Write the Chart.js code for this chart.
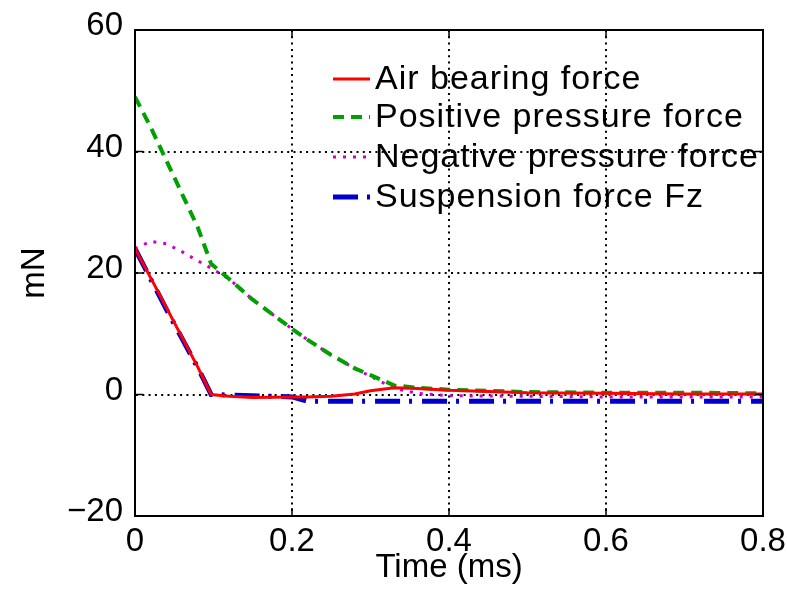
<!DOCTYPE html>
<html>
<head>
<meta charset="utf-8">
<title>Fuerzas</title>
<script src="https://cdn.jsdelivr.net/npm/chart.js@4.4.1/dist/chart.umd.min.js"></script>
<style>
    body { margin: 0; background: #fff; }
    canvas { display: block; }
</style>
</head>
<body>
<canvas id="graficoFuerzas" width="787" height="591"></canvas>
<script>
// Datos (tiempo en ms, fuerza en mN)
const tiempos = [0, 0.02, 0.04, 0.06, 0.08, 0.097, 0.12, 0.15, 0.2, 0.22, 0.25, 0.28, 0.3, 0.33, 0.36, 0.4, 0.5, 0.6, 0.7, 0.8];
const fuerzaAire = [24, 19.2, 14.3, 9.4, 4.5, 0, -0.3, -0.5, -0.4, -0.4, -0.3, 0.1, 0.6, 1.1, 1.0, 0.7, 0.3, 0.2, 0.1, 0.1];
const fuerzaPositiva = [49, 44, 38.5, 33, 27.5, 21.5, 19, 15.6, 10.8, 9, 6.5, 4.3, 3.2, 1.5, 1.1, 0.8, 0.4, 0.3, 0.3, 0.2];
const fuerzaNegativa = [24, 25.2, 24.8, 23.5, 22, 20.8, 19, 15.6, 10.8, 9, 6.5, 4.3, 3, 1, 0.2, -0.2, -0.3, -0.4, -0.4, -0.4];
const fuerzaSuspension = [24, 19, 14, 9.2, 4.4, 0, -0.1, -0.2, -0.4, -1.1, -1.1, -1.1, -1.1, -1.1, -1.1, -1.1, -1.1, -1.1, -1.1, -1.1];

const etiquetasSeries = ['Air bearing force', 'Positive pressure force', 'Negative pressure force', 'Suspension force Fz'];
const ticksX = [0, 0.2, 0.4, 0.6, 0.8];
const ticksY = [-20, 0, 20, 40, 60];

const fuente = "'Liberation Sans', Arial, Helvetica, sans-serif";

function puntos(valores) {
    return tiempos.map((t, i) => ({ x: t, y: valores[i] }));
}

function serie(indice, valores, color, ancho, guiones) {
    return {
        label: etiquetasSeries[indice],
        data: puntos(valores),
        borderColor: color,
        backgroundColor: color,
        borderWidth: ancho,
        borderDash: guiones,
        pointRadius: 0,
        tension: 0,
        fill: false
    };
}

// Marco completo, marcas hacia dentro y leyenda dentro del area
const marcoPlugin = {
    id: 'marco',
    afterDraw(chart) {
        const ctx = chart.ctx;
        const area = chart.chartArea;
        const sx = chart.scales.x;
        const sy = chart.scales.y;
        ctx.save();
        ctx.strokeStyle = '#000';
        ctx.lineWidth = 2;
        ctx.setLineDash([]);
        ctx.strokeRect(area.left, area.top, area.right - area.left, area.bottom - area.top);

        const largo = 8;
        ctx.lineWidth = 1.5;
        ticksX.forEach(v => {
            const px = sx.getPixelForValue(v);
            ctx.beginPath();
            ctx.moveTo(px, area.bottom); ctx.lineTo(px, area.bottom - largo);
            ctx.moveTo(px, area.top); ctx.lineTo(px, area.top + largo);
            ctx.stroke();
        });
        ticksY.forEach(v => {
            const py = sy.getPixelForValue(v);
            ctx.beginPath();
            ctx.moveTo(area.left, py); ctx.lineTo(area.left + largo, py);
            ctx.moveTo(area.right, py); ctx.lineTo(area.right - largo, py);
            ctx.stroke();
        });

        // leyenda
        const x0 = 333, x1 = 370, xTexto = 375;
        const filas = [79, 117, 157, 197];
        ctx.font = '34px ' + fuente;
        ctx.letterSpacing = '1px';
        ctx.textBaseline = 'middle';
        ctx.textAlign = 'left';
        chart.data.datasets.forEach((ds, i) => {
            ctx.strokeStyle = ds.borderColor;
            ctx.lineWidth = ds.borderWidth;
            ctx.setLineDash(ds.borderDash || []);
            ctx.beginPath();
            ctx.moveTo(x0, filas[i]);
            ctx.lineTo(x1, filas[i]);
            ctx.stroke();
            ctx.setLineDash([]);
            ctx.fillStyle = '#000';
            ctx.fillText(ds.label, xTexto, filas[i] + 1);
        });
        ctx.restore();
    }
};

const ctx = document.getElementById('graficoFuerzas').getContext('2d');

const chartInstance = new Chart(ctx, {
    type: 'line',
    data: {
        datasets: [
            serie(0, fuerzaAire, '#ff0000', 3, []),
            serie(1, fuerzaPositiva, '#00a000', 4, [11, 7]),
            serie(2, fuerzaNegativa, '#cc00cc', 3, [3, 7]),
            serie(3, fuerzaSuspension, '#0000cc', 5, [25, 9, 3, 10])
        ]
    },
    options: {
        responsive: false,
        animation: false,
        layout: {
            padding: { top: 30, right: 24, left: 0, bottom: 0 }
        },
        plugins: {
            legend: { display: false },
            tooltip: { enabled: false }
        },
        scales: {
            x: {
                type: 'linear',
                min: 0,
                max: 0.8,
                afterBuildTicks: scale => { scale.ticks = ticksX.map(v => ({ value: v })); },
                afterFit: scale => {
                    scale.height = 75;
                    scale.paddingLeft = 0;
                    scale.paddingRight = 0;
                },
                grid: {
                    color: '#000',
                    lineWidth: 2,
                    drawTicks: false
                },
                border: { display: true, color: '#000', width: 2, dash: [2, 4.3] },
                ticks: {
                    color: '#000',
                    padding: 6,
                    maxRotation: 0,
                    autoSkip: false,
                    font: { family: fuente, size: 33 },
                    callback: v => String(Number(v.toFixed(1)))
                },
                title: {
                    display: true,
                    text: 'Time (ms)',
                    color: '#000',
                    font: { family: fuente, size: 33 },
                    padding: { top: 0, bottom: 3 }
                }
            },
            y: {
                min: -20,
                max: 60,
                afterBuildTicks: scale => { scale.ticks = ticksY.map(v => ({ value: v })); },
                afterFit: scale => {
                    scale.width = 135;
                    scale.paddingTop = 0;
                    scale.paddingBottom = 0;
                },
                grid: {
                    color: '#000',
                    lineWidth: 2,
                    drawTicks: false
                },
                border: { display: true, color: '#000', width: 2, dash: [2, 4.3] },
                ticks: {
                    color: '#000',
                    padding: 12,
                    labelOffset: -4,
                    font: { family: fuente, size: 33 },
                    callback: v => String(v).replace('-', '\u2212')
                },
                title: {
                    display: true,
                    text: 'mN',
                    color: '#000',
                    font: { family: fuente, size: 33 },
                    padding: { top: 15, bottom: 0 }
                }
            }
        }
    },
    plugins: [marcoPlugin]
});
</script>
</body>
</html>
